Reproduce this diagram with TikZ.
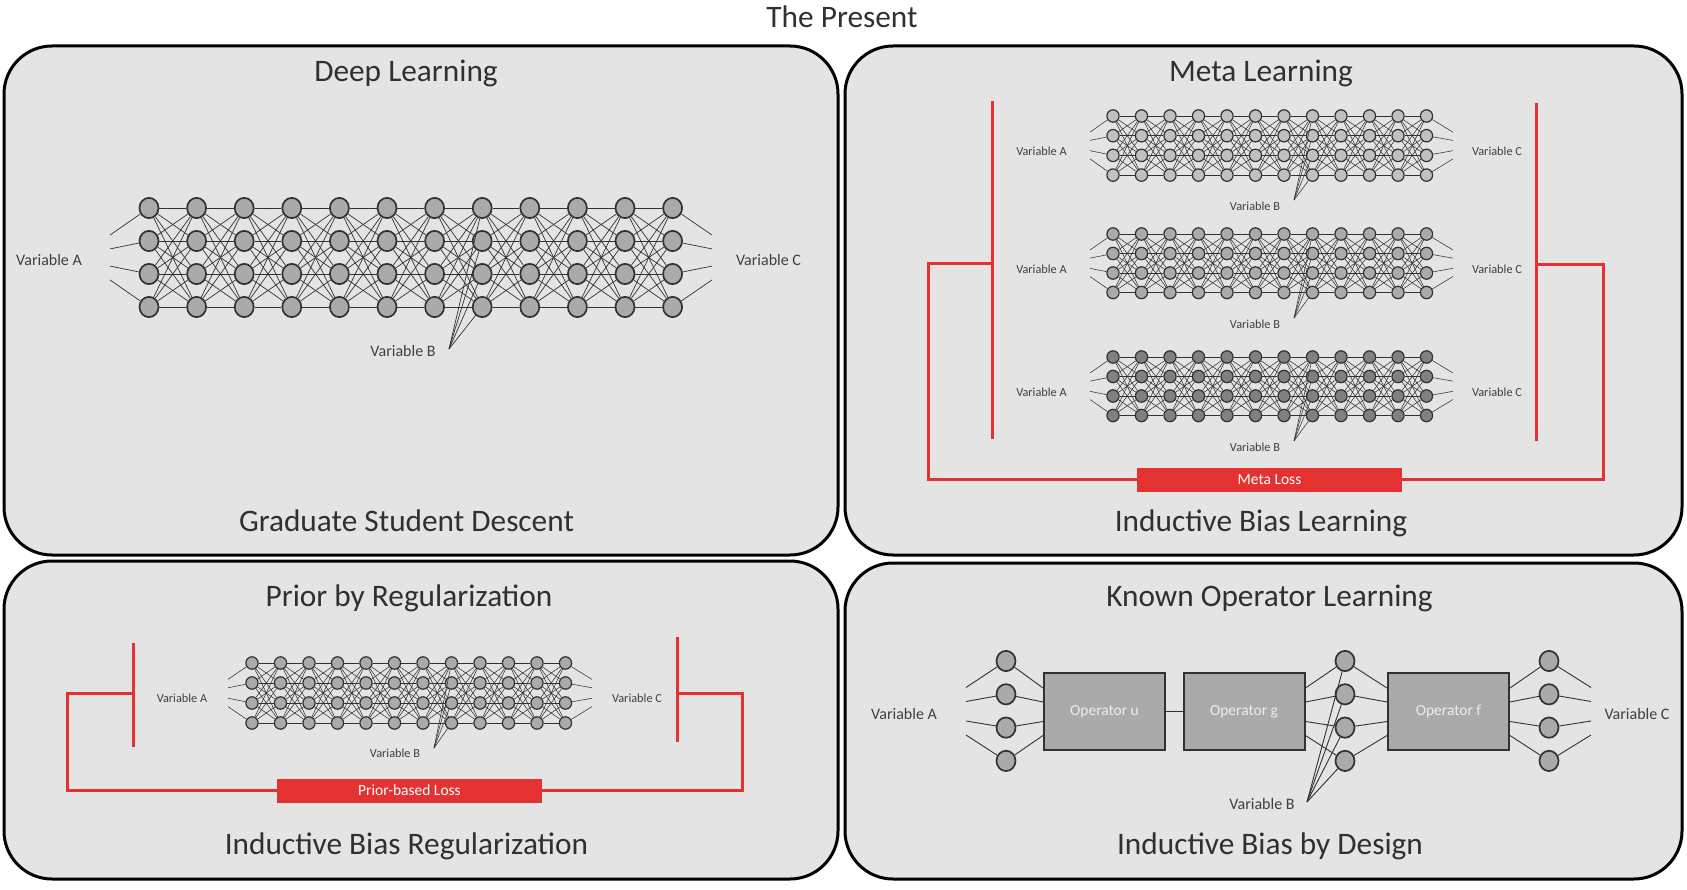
\documentclass[tikz,border=0pt]{standalone}
\usepackage{fontspec}
\setmainfont{Carlito}
\usetikzlibrary{shapes.geometric,calc}
\definecolor{panelbg}{RGB}{228,228,228}
\definecolor{titlecol}{RGB}{48,48,48}
\definecolor{labelcol}{RGB}{64,64,64}
\definecolor{nodeline}{RGB}{50,50,50}
\definecolor{nfill}{RGB}{170,170,170}
\definecolor{nlight}{RGB}{192,192,192}
\definecolor{ndark}{RGB}{128,128,128}
\definecolor{wirecol}{RGB}{50,50,50}
\definecolor{lossred}{RGB}{228,50,50}
\definecolor{optext}{RGB}{236,236,236}
\tikzset{
  panel/.style={draw=black, line width=3pt, fill=panelbg, rounded corners=48pt, inner sep=0},
  title/.style={font=\fontsize{31.3}{36}\selectfont, text=titlecol, inner sep=0, anchor=base},
  varbig/.style={font=\fontsize{16}{18}\selectfont, text=labelcol, inner sep=0},
  varsmall/.style={font=\fontsize{12.3}{14}\selectfont, text=labelcol, inner sep=0},
  nbig/.style={ellipse, draw=nodeline, line width=1.7pt, fill=#1, minimum width=19pt, minimum height=20.3pt, inner sep=0},
  nsmall/.style={ellipse, draw=nodeline, line width=1.2pt, fill=#1, minimum width=12.2pt, minimum height=12.4pt, inner sep=0},
  wirebig/.style={draw=wirecol, line width=0.7pt},
  wiresmall/.style={draw=wirecol, line width=0.55pt},
  opwire/.style={draw=wirecol, line width=0.9pt},
  redline/.style={draw=lossred, line width=3pt},
  lossbox/.style={fill=lossred, draw=none, text=white, font=\fontsize{15.5}{18}\selectfont, minimum height=24pt, inner sep=0},
  opbox/.style={draw=nodeline, line width=2pt, fill=nfill, text=optext, font=\fontsize{15.5}{18}\selectfont, minimum width=121pt, minimum height=77pt, inner sep=0},
}
% #1 prefix, #2 x0, #3 dx, #4 y0, #5 dy, #6 node style, #7 in x, #8 out x, #9 wire style
\newcommand{\nnet}[9]{%
  \foreach \i in {1,...,12}{
    \foreach \j in {1,...,4}{
      \node[#6] (#1-\i-\j) at ({#2+(\i-1)*#3},{#4+(\j-1)*#5}) {};
    }
  }
  \foreach \i in {1,...,11}{
    \pgfmathtruncatemacro{\k}{\i+1}
    \foreach \j in {1,...,4}{
      \foreach \m in {1,...,4}{
        \draw[#9] (#1-\i-\j) -- (#1-\k-\m);
      }
    }
  }
  \foreach \j/\o in {1/-0.68,2/-0.26,3/0.26,4/0.68}{
    \coordinate (#1-in-\j) at (#7,{#4+1.5*#5+\o*#5});
    \coordinate (#1-out-\j) at (#8,{#4+1.5*#5+\o*#5});
    \draw[#9] (#1-in-\j) -- (#1-1-\j);
    \draw[#9] (#1-12-\j) -- (#1-out-\j);
  }
}
\begin{document}
\begin{tikzpicture}[x=1pt,y=-1pt]
\useasboundingbox (0,0) rectangle (1687,890);
% panels
\node[panel, minimum width=834pt, minimum height=509pt] (pTL) at (421,300.5) {};
\node[panel, minimum width=837pt, minimum height=509pt] (pTR) at (1263.5,300.5) {};
\node[panel, minimum width=834pt, minimum height=318pt] (pBL) at (421,720) {};
\node[panel, minimum width=837pt, minimum height=316pt] (pBR) at (1263.5,721) {};
% titles
\node[title] (tPresent) at (842,28) {The Present};
\node[title] (tDL) at (406,81.5) {Deep Learning};
\node[title] (tGSD) at (406.5,531) {Graduate Student Descent};
\node[title] (tML) at (1261,81.5) {Meta Learning};
\node[title] (tIBL) at (1261,531) {Inductive Bias Learning};
\node[title] (tPR) at (409,606) {Prior by Regularization};
\node[title] (tIBR) at (406.5,854) {Inductive Bias Regularization};
\node[title] (tKOL) at (1269.5,606) {Known Operator Learning};
\node[title] (tIBD) at (1270,854) {Inductive Bias by Design};

% ---------- Deep learning ----------
\nnet{tl}{149}{47.6}{208}{33}{nbig=nfill}{110}{712}{wirebig}
\coordinate (tl-vb) at (449,349);
\foreach \j in {1,...,4}{\draw[wirebig] (tl-vb) -- (tl-8-\j);}
\node[varbig] (tl-A) at (49,260) {Variable A};
\node[varbig] (tl-C) at (768.5,260) {Variable C};
\node[varbig] (tl-B) at (403,351) {Variable B};

% ---------- Meta learning ----------
\nnet{ma}{1113}{28.5}{116}{19.7}{nsmall=nlight}{1090}{1453}{wiresmall}
\nnet{mb}{1113}{28.5}{234}{19.5}{nsmall=nfill}{1090}{1453}{wiresmall}
\nnet{mc}{1113}{28.5}{357}{19.5}{nsmall=ndark}{1090}{1453}{wiresmall}
\foreach \n/\vy/\ly in {ma/200/151, mb/318/269, mc/441/392}{
  \coordinate (\n-vb) at (1294,\vy);
  \foreach \j in {1,...,4}{\draw[wiresmall] (\n-vb) -- (\n-8-\j);}
  \node[varsmall] (\n-A) at (1041.5,\ly) {Variable A};
  \node[varsmall] (\n-C) at (1497,\ly) {Variable C};
  \node[varsmall] (\n-B) at (1255,{\vy+6}) {Variable B};
}
\coordinate (mlt) at (992,101);
\coordinate (mlb) at (992,439);
\coordinate (mrt) at (1536,103);
\coordinate (mrb) at (1536,441);
\coordinate (mlbr) at (992,264);
\coordinate (mlc) at (928,264);
\coordinate (mrbr) at (1536,265);
\coordinate (mrc) at (1603,265);
\draw[redline] (mlt) -- (mlb);
\draw[redline] (mrt) -- (mrb);
\node[lossbox, minimum width=265pt] (metaloss) at (1269.5,479.5) {Meta Loss};
\draw[redline] (mlbr) -- (mlc) |- (metaloss.west);
\draw[redline] (mrbr) -- (mrc) |- (metaloss.east);

% ---------- Prior by regularization ----------
\nnet{bl}{252}{28.5}{663}{20}{nsmall=nfill}{228}{592}{wiresmall}
\coordinate (bl-vb) at (434,748);
\foreach \j in {1,...,4}{\draw[wiresmall] (bl-vb) -- (bl-8-\j);}
\node[varsmall] (bl-A) at (182,698) {Variable A};
\node[varsmall] (bl-C) at (637,698) {Variable C};
\node[varsmall] (bl-B) at (395,753) {Variable B};
\coordinate (blt) at (133,643);
\coordinate (blb) at (133,747);
\coordinate (brt) at (677,637);
\coordinate (brb) at (677,742);
\coordinate (blbr) at (133,693);
\coordinate (blc) at (67,693);
\coordinate (brbr) at (677,693);
\coordinate (brc) at (742,693);
\draw[redline] (blt) -- (blb);
\draw[redline] (brt) -- (brb);
\node[lossbox, minimum width=265pt] (priorloss) at (409.5,790.5) {Prior-based Loss};
\draw[redline] (blbr) -- (blc) |- (priorloss.west);
\draw[redline] (brbr) -- (brc) |- (priorloss.east);

% ---------- Known operator learning ----------
\foreach \j in {1,...,4}{
  \node[nbig=nfill] (kl-\j) at (1006,{661+(\j-1)*33.3}) {};
  \node[nbig=nfill] (km-\j) at (1345,{661+(\j-1)*33.3}) {};
  \node[nbig=nfill] (kr-\j) at (1549,{661+(\j-1)*33.3}) {};
}
\node[opbox] (opu) at (1104.5,711.5) {Operator u};
\node[opbox] (opg) at (1244,711.5) {Operator g};
\node[opbox] (opf) at (1448.5,711.5) {Operator f};
\draw[opwire] (opu) -- (opg);
\foreach \j/\o in {1/-23.5,2/-9.5,3/10,4/24}{
  \coordinate (kin-\j) at (966,{711+\o});
  \coordinate (kout-\j) at (1591,{711+\o});
  \draw[opwire] (kin-\j) -- (kl-\j);
  \draw[opwire] (kl-\j) -- ($(opu.west)+(0,\o)$);
  \draw[opwire] ($(opg.east)+(0,\o)$) -- (km-\j);
  \draw[opwire] (km-\j) -- ($(opf.west)+(0,\o)$);
  \draw[opwire] ($(opf.east)+(0,\o)$) -- (kr-\j);
  \draw[opwire] (kr-\j) -- (kout-\j);
}
\coordinate (kvb) at (1307,802);
\foreach \j in {1,...,4}{\draw[opwire] (kvb) -- (km-\j);}
\node[varbig] (k-A) at (904,714) {Variable A};
\node[varbig] (k-C) at (1637,714) {Variable C};
\node[varbig] (k-B) at (1262,804) {Variable B};
\end{tikzpicture}
\end{document}
